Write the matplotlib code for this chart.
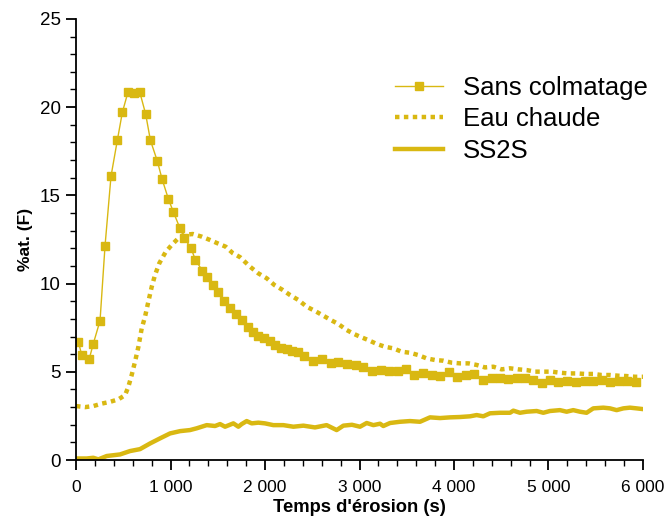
import numpy as np
import matplotlib
matplotlib.use("Agg")
import matplotlib.pyplot as plt
from matplotlib.ticker import MultipleLocator, FuncFormatter

plt.rcParams['font.family'] = ['Liberation Sans', 'DejaVu Sans']

# Sans colmatage (markers)
t_sans = [25, 60, 138, 183, 254, 307, 370, 437, 490, 550, 614, 674, 737, 787, 861, 910,
          977, 1030, 1097, 1147, 1217, 1263, 1337, 1383, 1453, 1506, 1570, 1630, 1693, 1753,
          1817, 1870, 1929, 1989, 2053, 2106, 2169, 2229, 2289, 2353, 2416, 2511, 2607, 2695,
          2776, 2871, 2960, 3041, 3129, 3224, 3316, 3404, 3492, 3580, 3675, 3764, 3852, 3947,
          4035, 4127, 4215, 4303, 4398, 4487, 4575, 4663, 4751, 4839, 4927, 5015, 5104, 5199,
          5287, 5386, 5474, 5562, 5651, 5749, 5827, 5926]
y_sans = [6.7, 5.95, 5.7, 6.6, 7.9, 12.15, 16.08, 18.12, 19.7, 20.86, 20.8, 20.86, 19.6,
          18.12, 16.93, 15.93, 14.8, 14.06, 13.17, 12.57, 12.0, 11.35, 10.73, 10.39, 9.92,
          9.54, 9.03, 8.6, 8.26, 7.94, 7.56, 7.27, 7.03, 6.9, 6.75, 6.52, 6.33, 6.29, 6.2,
          6.1, 5.91, 5.63, 5.71, 5.48, 5.57, 5.42, 5.36, 5.29, 5.05, 5.1, 5.03, 5.05, 5.18,
          4.8, 4.91, 4.8, 4.78, 4.97, 4.7, 4.8, 4.86, 4.53, 4.65, 4.63, 4.58, 4.65, 4.63,
          4.53, 4.38, 4.53, 4.44, 4.5, 4.44, 4.5, 4.5, 4.53, 4.44, 4.5, 4.5, 4.44]

# Eau chaude (dotted)
t_eau = [0, 95, 183, 272, 360, 448, 519, 554, 589, 624, 660, 695, 730, 765, 801, 836, 881,
         945, 1012, 1083, 1153, 1235, 1330, 1418, 1499, 1584, 1660, 1735, 1841, 1929, 2018,
         2099, 2187, 2265, 2353, 2441, 2529, 2617, 2695, 2776, 2864, 2940, 3005, 3093, 3182,
         3270, 3358, 3446, 3534, 3622, 3711, 3799, 3887, 3975, 4064, 4152, 4240, 4328, 4416,
         4504, 4592, 4681, 4769, 4857, 4945, 5033, 5121, 5209, 5298, 5386, 5474, 5562, 5651,
         5739, 5827, 5915, 6000]
y_eau = [3.06, 3.0, 3.06, 3.2, 3.3, 3.44, 3.68, 4.16, 4.82, 5.57, 6.42, 7.46, 8.12, 8.97,
         9.82, 10.49, 11.15, 11.76, 12.19, 12.57, 12.76, 12.81, 12.66, 12.47, 12.28, 12.09,
         11.72, 11.5, 10.96, 10.58, 10.3, 9.92, 9.64, 9.35, 9.07, 8.69, 8.45, 8.18, 7.94,
         7.71, 7.37, 7.15, 6.99, 6.8, 6.58, 6.42, 6.33, 6.14, 6.08, 5.95, 5.76, 5.67, 5.63,
         5.52, 5.48, 5.48, 5.39, 5.25, 5.29, 5.14, 5.2, 5.14, 5.1, 5.01, 5.01, 5.01, 4.95,
         4.91, 4.91, 4.88, 4.88, 4.82, 4.82, 4.78, 4.76, 4.72, 4.72]

# SS2S (solid)
t_ss = [0, 113, 183, 236, 325, 466, 571, 677, 783, 889, 995, 1101, 1206, 1277, 1383, 1471,
        1524, 1577, 1665, 1718, 1753, 1806, 1859, 1929, 1999, 2088, 2194, 2300, 2406, 2529,
        2652, 2758, 2829, 2920, 3005, 3076, 3147, 3217, 3252, 3323, 3428, 3534, 3640, 3746,
        3852, 3958, 4064, 4170, 4240, 4310, 4381, 4487, 4593, 4628, 4698, 4769, 4875, 4945,
        5015, 5121, 5192, 5262, 5333, 5403, 5474, 5580, 5651, 5721, 5792, 5862, 5932, 5996]
y_ss = [0.09, 0.09, 0.13, 0.04, 0.23, 0.32, 0.51, 0.62, 0.94, 1.23, 1.51, 1.64, 1.7, 1.8,
        1.98, 1.93, 2.04, 1.89, 2.08, 1.89, 2.04, 2.21, 2.08, 2.12, 2.08, 1.98, 1.98, 1.89,
        1.95, 1.85, 1.98, 1.7, 1.95, 2.0, 1.89, 2.1, 1.98, 2.06, 1.93, 2.1, 2.17, 2.21,
        2.17, 2.42, 2.38, 2.42, 2.44, 2.48, 2.55, 2.48, 2.65, 2.68, 2.68, 2.8, 2.68, 2.74,
        2.78, 2.68, 2.78, 2.83, 2.74, 2.83, 2.74, 2.68, 2.93, 2.97, 2.93, 2.83, 2.93, 2.97,
        2.93, 2.89]

col = '#D9B812'

fig = plt.figure(figsize=(6.67, 5.24), dpi=100)
ax = fig.add_axes([0.114, 0.122, 0.850, 0.842])

ax.plot(t_sans, y_sans, color=col, lw=1.0, marker='s', ms=6, mec=col, mfc=col,
        label='Sans colmatage')
ax.plot(t_eau, y_eau, color=col, lw=3.2, linestyle=(0, (1, 1)), label='Eau chaude')
ax.plot(t_ss, y_ss, color=col, lw=3.2, solid_joinstyle='round', label='SS2S')

ax.set_xlim(0, 6000)
ax.set_ylim(0, 25)
ax.xaxis.set_major_locator(MultipleLocator(1000))
ax.xaxis.set_minor_locator(MultipleLocator(200))
ax.yaxis.set_major_locator(MultipleLocator(5))
ax.yaxis.set_minor_locator(MultipleLocator(1))
ax.xaxis.set_major_formatter(FuncFormatter(lambda v, p: f"{int(v):,}".replace(',', ' ')))

for s in ['top', 'right']:
    ax.spines[s].set_visible(False)
for s in ['left', 'bottom']:
    ax.spines[s].set_linewidth(1.3)
ax.tick_params(which='major', direction='out', length=7.5, width=1.3, labelsize=12.5)
ax.tick_params(which='minor', direction='out', length=4.5, width=1.0)
ax.tick_params(axis='x', which='major', pad=7)
ax.tick_params(axis='y', labelsize=13.5)

ax.set_xlabel("Temps d'érosion (s)", fontsize=13.2, fontweight='bold', labelpad=3)
ax.set_ylabel("%at. (F)", fontsize=12.5, fontweight='bold', labelpad=5)

leg = ax.legend(loc='upper left', bbox_to_anchor=(0.563, 0.87), frameon=False,
                fontsize=18.5, handlelength=1.86, handletextpad=0.78, labelspacing=0.28,
                borderaxespad=0, borderpad=0)
leg.legend_handles[0].set_markersize(6)

fig.savefig('out.png', dpi=100)
